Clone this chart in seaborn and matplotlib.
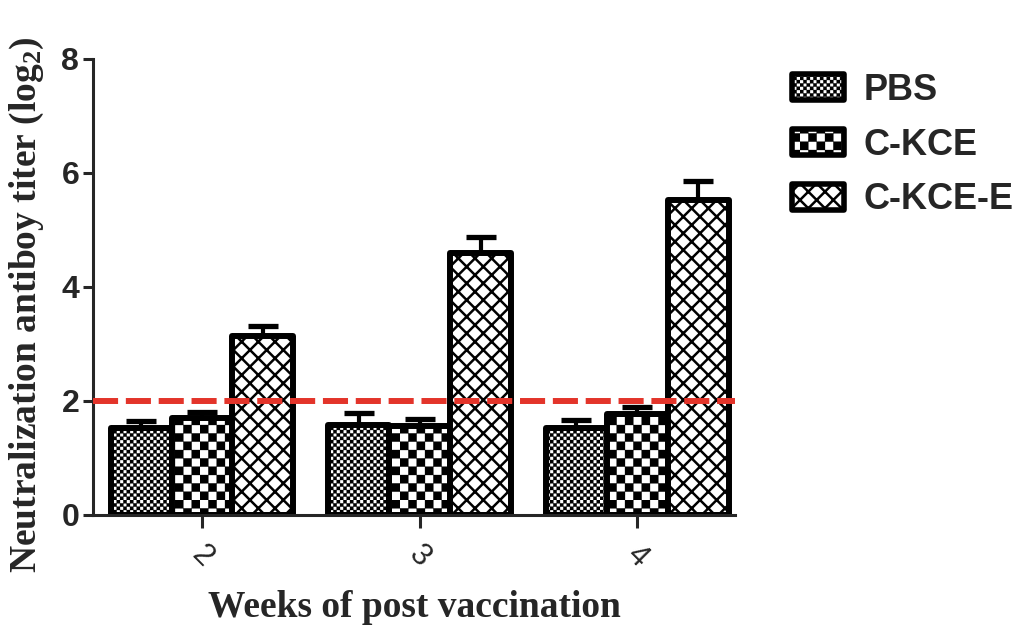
import warnings
import numpy as np
import pandas as pd
import seaborn as sns
import matplotlib
matplotlib.use("Agg")
import matplotlib.pyplot as plt
import matplotlib.hatch as mhatch
from matplotlib.path import Path
from matplotlib.patches import Patch

warnings.filterwarnings("ignore", message="hatch must consist")

weeks = ["2", "3", "4"]
groups = ["PBS", "C-KCE", "C-KCE-E"]
pbs_mean = [1.53, 1.58, 1.53]
pbs_err = [0.12, 0.20, 0.13]
ckce_mean = [1.70, 1.56, 1.76]
ckce_err = [0.10, 0.12, 0.14]
ckcee_mean = [3.14, 4.60, 5.53]
ckcee_err = [0.17, 0.27, 0.33]
cutoff = 2

hatches = ["#####", "##", "xx"]


class CheckerHatch(mhatch.HatchPatternBase):
    # checkerboard fill, number of '#' sets how fine the cells are
    def __init__(self, hatch, density):
        self.n = hatch.count("#") * density
        self.num_vertices = (self.n * self.n // 2) * 5

    def set_vertices_and_codes(self, vertices, codes):
        n = self.n
        sq = np.array([[0, 0], [1, 0], [1, 1], [0, 1], [0, 0]], float)
        k = 0
        for i in range(n):
            for j in range(n):
                if (i + j) % 2 == 0:
                    vertices[k:k + 5] = (sq + [i, j]) / n
                    codes[k:k + 5] = [Path.MOVETO, Path.LINETO, Path.LINETO,
                                      Path.LINETO, Path.CLOSEPOLY]
                    k += 5


mhatch._hatch_types.append(CheckerHatch)

sns.set_style("ticks")
plt.rcParams["font.family"] = ["Liberation Sans", "DejaVu Sans"]
plt.rcParams["mathtext.fontset"] = "custom"
plt.rcParams["mathtext.rm"] = "Liberation Serif:bold"
plt.rcParams["mathtext.it"] = "Liberation Serif:italic:bold"
plt.rcParams["mathtext.bf"] = "Liberation Serif:bold"
plt.rcParams["hatch.linewidth"] = 1.8
plt.rcParams["axes.linewidth"] = 2.2

df = pd.DataFrame({
    "week": weeks * 3,
    "group": np.repeat(groups, 3),
    "titer": pbs_mean + ckce_mean + ckcee_mean,
})
errs = [pbs_err, ckce_err, ckcee_err]

fig = plt.figure(figsize=(10.24, 6.27), dpi=100)
ax = fig.add_axes([0.091, 0.179, 0.627, 0.727])

sns.barplot(data=df, x="week", y="titer", hue="group", hue_order=groups,
            palette=["white"] * 3, saturation=1, edgecolor="black",
            linewidth=4.3, width=0.84, gap=0, errorbar=None, legend=False, ax=ax)


def style_bar(p, h):
    p.set_hatch(h)
    p.set_joinstyle("round")
    if hasattr(p, "set_hatch_linewidth"):
        p.set_hatch_linewidth(0.2 if "#" in h else 1.8)


for cont, h, e in zip(ax.containers, hatches, errs):
    xs, ys = [], []
    for bar in cont:
        style_bar(bar, h)
        xs.append(bar.get_x() + bar.get_width() / 2)
        ys.append(bar.get_height())
    ax.errorbar(xs, ys, yerr=[np.zeros(len(e)), e], fmt="none", ecolor="black",
                elinewidth=3, capsize=11, capthick=3.8, zorder=0.5)

ax.axhline(cutoff, color="#e3342a", lw=4.3, dashes=(4.2, 1.3),
           dash_capstyle="butt", zorder=5)

ax.set_ylim(0, 8)
ax.set_yticks([0, 2, 4, 6, 8])
ax.set_xlim(-0.5, 2.45)
sns.despine(ax=ax)
ax.tick_params(axis="y", width=2.2, length=7, labelsize=23, pad=3)
ax.tick_params(axis="x", width=2.2, length=9, labelsize=22, pad=9)
plt.setp(ax.get_yticklabels(), fontweight="bold")
plt.setp(ax.get_xticklabels(), rotation=-45, ha="center")

ax.set_ylabel(r"Neutralization antiboy titer (log$_2$)", fontsize=27,
              fontweight="bold", family="Liberation Serif")
ax.yaxis.set_label_coords(-0.074, 0.46)
ax.set_xlabel("Weeks of post vaccination", fontsize=27, fontweight="bold",
              family="Liberation Serif", labelpad=12)

handles = [Patch(facecolor="white", edgecolor="black", linewidth=4) for h in hatches]
leg = fig.legend(handles, groups, loc="upper left", bbox_to_anchor=(0.759, 0.907),
                 frameon=False, prop={"size": 26, "weight": "bold"},
                 handlelength=1.45, handleheight=0.72, handletextpad=0.55,
                 labelspacing=0.55, borderaxespad=0)
for p, h in zip(leg.get_patches(), hatches):
    style_bar(p, h)

fig.savefig("out.png", dpi=100)
